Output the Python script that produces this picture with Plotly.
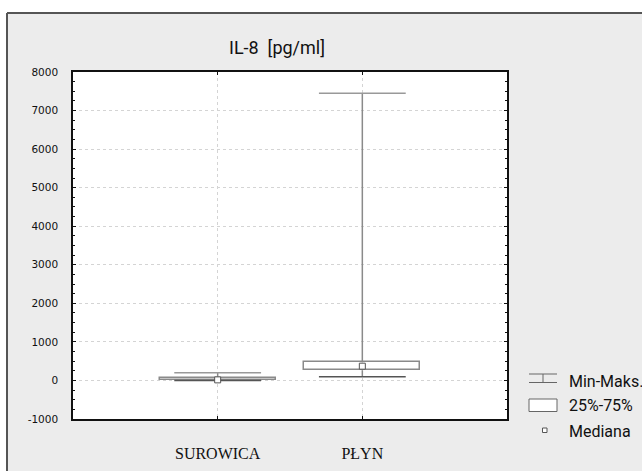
import plotly.graph_objects as go

categories = ["SUROWICA", "PŁYN"]
mins = [0, 96]
q1 = [10, 266]
medians = [15, 370]
q3 = [55, 473]
maxs = [200, 7450]
yticks = [-1000, 0, 1000, 2000, 3000, 4000, 5000, 6000, 7000, 8000]
yticklabels = ["-1000", "0", "1000", "2000", "3000", "4000", "5000", "6000", "7000", "8000"]

xs = list(range(len(categories)))
BOXW = 0.8
CAPW = 0.6
grey = "#8a8a8a"

fig = go.Figure()

# boxes (25%-75%)
fig.add_trace(go.Bar(
    x=xs, base=q1, y=[b - a for a, b in zip(q1, q3)], width=BOXW,
    marker=dict(color="white", line=dict(color=grey, width=1.5)),
    showlegend=False, hoverinfo="skip"))

# whiskers (outside the box)
wx, wy = [], []
for i in xs:
    wx += [i, i, None, i, i, None]
    wy += [q3[i], maxs[i], None, mins[i], q1[i], None]
fig.add_trace(go.Scatter(x=wx, y=wy, mode="lines",
                         line=dict(color=grey, width=1.5),
                         showlegend=False, hoverinfo="skip"))
# caps
cx, cy = [], []
for i in xs:
    cx += [i - CAPW / 2, i + CAPW / 2, None]
    cy += [maxs[i], maxs[i], None]
fig.add_trace(go.Scatter(x=cx, y=cy, mode="lines",
                         line=dict(color="#999999", width=1.5),
                         showlegend=False, hoverinfo="skip"))
mx, my = [], []
for i in xs:
    mx += [i - CAPW / 2, i + CAPW / 2, None]
    my += [mins[i], mins[i], None]
fig.add_trace(go.Scatter(x=mx, y=my, mode="lines",
                         line=dict(color="#555555", width=1.5),
                         showlegend=False, hoverinfo="skip"))
# medians
fig.add_trace(go.Scatter(x=xs, y=medians, mode="markers",
                         marker=dict(symbol="square", size=6, color="white",
                                     line=dict(color="#555555", width=1)),
                         showlegend=False, hoverinfo="skip"))

L, T, R, B = 73, 72, 507, 419
W, H = R - L, B - T


def px(xp):
    return (xp - L) / W


def py(yp):
    return (B - yp) / H


shapes = [
    # white strips outside the frame
    dict(type="rect", xref="paper", yref="paper", x0=-0.3, x1=1.5,
         y0=py(13), y1=1.4, fillcolor="white", line_width=0, layer="below"),
    dict(type="rect", xref="paper", yref="paper", x0=-0.3, x1=px(7),
         y0=-0.3, y1=1.4, fillcolor="white", line_width=0, layer="below"),
    # frame lines
    dict(type="line", xref="paper", yref="paper", x0=px(7), x1=1.5,
         y0=py(13), y1=py(13), line=dict(color="#555555", width=2)),
    dict(type="line", xref="paper", yref="paper", x0=px(7), x1=px(7),
         y0=-0.3, y1=py(13), line=dict(color="#555555", width=2)),
]

# legend icons
lg = "#666666"
shapes += [
    dict(type="line", xref="paper", yref="paper", x0=px(529), x1=px(557), y0=py(374), y1=py(374), line=dict(color=lg, width=1)),
    dict(type="line", xref="paper", yref="paper", x0=px(529), x1=px(557), y0=py(382.5), y1=py(382.5), line=dict(color=lg, width=1)),
    dict(type="line", xref="paper", yref="paper", x0=px(543), x1=px(543), y0=py(374), y1=py(382.5), line=dict(color=lg, width=1)),
    dict(type="rect", xref="paper", yref="paper", x0=px(529), x1=px(557), y0=py(399), y1=py(411.5), fillcolor="white", line=dict(color=lg, width=1)),
    dict(type="rect", xref="paper", yref="paper", x0=px(542.5), x1=px(547), y0=py(428), y1=py(432.5), fillcolor="white", line=dict(color="#555555", width=1)),
]

lfont = dict(family="Roboto, Arial, sans-serif", size=16, color="#111111")
annotations = [
    dict(text="IL-8&nbsp;&nbsp;[pg/ml]", xref="paper", yref="paper", x=px(277), y=py(48),
         xanchor="center", yanchor="middle",
         showarrow=False, font=dict(family="Roboto, Arial, sans-serif", size=18, color="#111111")),
    dict(text="Min-Maks.", xref="paper", yref="paper", x=px(567), y=py(381.5), xanchor="left",
         yanchor="middle", showarrow=False, font=lfont),
    dict(text="25%-75%", xref="paper", yref="paper", x=px(567), y=py(405), xanchor="left",
         yanchor="middle", showarrow=False, font=lfont),
    dict(text="Mediana", xref="paper", yref="paper", x=px(567), y=py(431), xanchor="left",
         yanchor="middle", showarrow=False, font=lfont),
]

fig.update_layout(
    width=642, height=471,
    margin=dict(l=L, r=642 - R, t=T, b=471 - B, autoexpand=False),
    paper_bgcolor="#ececec", plot_bgcolor="white",
    shapes=shapes, annotations=annotations, showlegend=False,
    bargap=0,
)
fig.update_xaxes(
    range=[-1, 2], tickmode="array", tickvals=xs, ticktext=categories,
    showgrid=True, gridcolor="#d4d4d4", griddash="dot", gridwidth=1,
    ticks="inside", ticklen=3, tickcolor="#111", mirror="ticks",
    showline=True, linecolor="#111", linewidth=1.5,
    tickfont=dict(family="Liberation Serif, Times New Roman, serif", size=16, color="#111"),
    ticklabelstandoff=19, zeroline=False,
)
fig.update_yaxes(
    range=[-1000, 8000], tickmode="array", tickvals=yticks, ticktext=yticklabels,
    showgrid=True, gridcolor="#d4d4d4", griddash="dot", gridwidth=1,
    ticks="inside", ticklen=3, tickcolor="#111", mirror="ticks",
    minor=dict(dtick=250, ticks="inside", ticklen=2, tickcolor="#111", showgrid=False),
    showline=True, linecolor="#111", linewidth=1.5,
    tickfont=dict(family="DejaVu Sans, sans-serif", size=10.5, color="#111"),
    ticklabelstandoff=11, zeroline=False,
)

fig.write_html("out.html", config={"displayModeBar": False},
               post_script="document.body.style.margin='0';document.body.style.overflow='hidden';")
